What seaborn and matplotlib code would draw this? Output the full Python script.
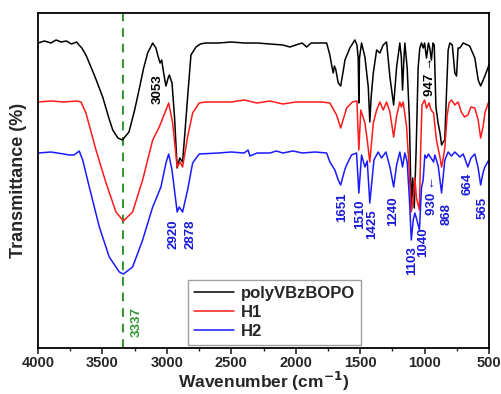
import matplotlib
matplotlib.use("Agg")
import matplotlib.pyplot as plt
from matplotlib.ticker import MultipleLocator
import pandas as pd
import seaborn as sns

# FTIR spectra (wavenumber in cm^-1, offset transmittance in arbitrary units)
poly_wn = [4000, 3950, 3900, 3860, 3820, 3780, 3740, 3700, 3682, 3660, 3628, 3560,
           3498, 3450, 3420, 3380, 3345, 3294, 3250, 3216, 3180, 3149, 3110, 3085,
           3071, 3053, 3040, 3025, 3007, 2990, 2981, 2960, 2940, 2920, 2900, 2878,
           2860, 2839, 2813, 2774, 2740, 2700, 2600, 2500, 2400, 2300, 2200, 2100,
           2045, 2000, 1950, 1916, 1880, 1800, 1760, 1735, 1720, 1709, 1700, 1690,
           1670, 1651, 1630, 1618, 1580, 1541, 1525, 1515, 1510, 1505, 1489, 1463,
           1437, 1425, 1415, 1398, 1372, 1347, 1321, 1295, 1269, 1240, 1217, 1192,
           1180, 1171, 1160, 1153, 1135, 1118, 1103, 1092, 1080, 1065, 1050, 1037,
           1024, 1010, 1000, 985, 970, 960, 947, 935, 925, 912, 895, 880, 868, 856,
           843, 830, 817, 804, 785, 765, 752, 740, 726, 700, 650, 610, 584, 565, 532,
           506, 500]
poly_t = [305, 307, 305, 308, 306, 307, 304, 306, 303, 300, 293, 272,
          251, 230, 218, 210, 208, 216, 238, 258, 280, 295, 305, 300,
          293, 285, 288, 275, 262, 270, 273, 265, 230, 180, 190, 186,
          215, 251, 293, 301, 304, 305, 305, 306, 305, 305, 304, 303,
          301, 303, 305, 301, 305, 305, 305, 293, 282, 275, 282, 279,
          265, 262, 278, 288, 300, 308, 303, 290, 245, 290, 305, 291,
          261, 226, 250, 275, 298, 295, 303, 306, 271, 243, 281, 305,
          290, 258, 290, 305, 280, 230, 138, 170, 140, 200, 280, 300,
          305, 300, 305, 290, 305, 300, 288, 305, 303, 241, 225, 215, 203, 206,
          208, 255, 298, 305, 303, 275, 272, 300, 300, 305, 302, 290, 268, 262, 272,
          281, 283]

h1_wn = [4000, 3900, 3800, 3700, 3666, 3628, 3550, 3472, 3395, 3337, 3266, 3188,
         3110, 3059, 3007, 2986, 2955, 2920, 2898, 2878, 2839, 2800, 2749, 2700,
         2500, 2400, 2300, 2200, 2100, 2000, 1900, 1800, 1735, 1683, 1651, 1605,
         1560, 1525, 1510, 1495, 1463, 1445, 1425, 1398, 1372, 1347, 1321, 1295,
         1269, 1240, 1217, 1192, 1180, 1166, 1140, 1120, 1103, 1088, 1075, 1063,
         1040, 1030, 1020, 1000, 985, 965, 950, 930, 908, 881, 868, 855, 843, 825,
         810, 791, 765, 740, 715, 690, 664, 640, 610, 584, 565, 545, 532, 506, 500]
h1_t = [246, 247, 246, 247, 246, 235, 198, 165, 136, 127, 136, 168,
        208, 221, 238, 245, 225, 181, 186, 181, 211, 235, 245, 246,
        246, 248, 245, 247, 244, 246, 246, 246, 245, 233, 220, 240,
        246, 247, 198, 238, 225, 208, 186, 225, 238, 246, 238, 246,
        236, 211, 232, 246, 241, 246, 222, 180, 136, 148, 170, 150,
        138, 200, 243, 248, 240, 245, 238, 235, 208, 191, 181, 190, 200, 232,
        245, 248, 243, 246, 236, 231, 233, 241, 240, 228, 210, 222, 235, 245, 246]

h2_wn = [4000, 3900, 3800, 3757, 3720, 3680, 3653, 3602, 3524, 3447, 3369, 3337,
         3266, 3188, 3110, 3046, 3007, 2986, 2960, 2920, 2904, 2878, 2839, 2800,
         2749, 2600, 2500, 2400, 2370, 2355, 2300, 2200, 2150, 2100, 2020, 1950,
         1850, 1760, 1735, 1696, 1670, 1651, 1620, 1605, 1567, 1528, 1510, 1489,
         1463, 1445, 1425, 1393, 1360, 1334, 1300, 1269, 1240, 1217, 1192, 1171,
         1153, 1135, 1118, 1103, 1088, 1075, 1060, 1040, 1024, 1011, 998, 985, 970,
         955, 940, 930, 920, 894, 868, 843, 817, 791, 765, 726, 700, 675, 664, 640,
         610, 584, 565, 545, 532, 506, 500]
h2_t = [195, 196, 194, 193, 193, 197, 188, 161, 121, 91, 76, 74,
        81, 108, 141, 161, 185, 194, 178, 136, 141, 136, 158, 185,
        194, 195, 196, 195, 198, 192, 195, 195, 197, 195, 197, 195,
        196, 195, 186, 178, 168, 163, 178, 183, 193, 195, 155, 193,
        181, 187, 145, 188, 196, 190, 196, 181, 161, 183, 196, 181,
        195, 186, 150, 108, 128, 135, 128, 118, 160, 168, 193, 190, 194,
        191, 188, 186, 193, 182, 155, 188, 196, 192, 196, 191, 194, 185, 181, 190,
        194, 180, 163, 176, 181, 187, 188]

series_names = ["polyVBzBOPO", "H1", "H2"]
series_colors = ["#000000", "#ff1a1a", "#1a1aff"]

# Peak assignments: (text, wavenumber, height, colour)
peak_labels = ["3053", "947 \u2192", "2920", "2878", "1651", "1510", "1425", "1240",
               "1103", "1040", "930 \u2190", "868", "664", "565"]
peak_wn = [3073, 959, 2945, 2813, 1642, 1502, 1409, 1246, 1099, 1013, 943, 827, 664, 548]
peak_y = [259, 272, 114, 114, 141, 134, 124, 137, 87, 106, 153, 134, 164, 140]
peak_colors = ["black", "black"] + ["#1a1adb"] * 12

oh_band = 3337

frames = []
for name, wn, t in zip(series_names, [poly_wn, h1_wn, h2_wn], [poly_t, h1_t, h2_t]):
    frames.append(pd.DataFrame({"wavenumber": wn, "T": t, "sample": name}))
df = pd.concat(frames, ignore_index=True)

sns.set_theme(style="ticks")
plt.rcParams["font.family"] = ["Liberation Sans", "DejaVu Sans"]
plt.rcParams["font.weight"] = "bold"
plt.rcParams["mathtext.default"] = "bf"

fig = plt.figure(figsize=(5.02, 3.94), dpi=100)
ax = fig.add_axes([38 / 502, 1 - 348 / 394, 451 / 502, 335 / 394])

sns.lineplot(data=df, x="wavenumber", y="T", hue="sample", hue_order=series_names,
             palette=series_colors, estimator=None, sort=False, linewidth=1.1, ax=ax)

ax.axvline(oh_band, color="#2e962e", linestyle=(0, (4.5, 3.5)), linewidth=1.4, zorder=0)

for txt, w, y, c in zip(peak_labels, peak_wn, peak_y, peak_colors):
    ax.text(w, y, txt, rotation=90, ha="center", va="center", color=c,
            fontsize=9.5, fontweight="bold")
ax.text(3232, 26, str(oh_band), rotation=90, ha="center", va="center",
        color="#2e962e", fontsize=9.5, fontweight="bold")

ax.set_xlim(4000, 500)
ax.set_ylim(0, 335)
ax.set_yticks([])
ax.xaxis.set_major_locator(MultipleLocator(500))
ax.xaxis.set_minor_locator(MultipleLocator(250))
ax.tick_params(axis="x", which="major", direction="out", length=4, width=1.2,
               labelsize=10.5, pad=2)
ax.tick_params(axis="x", which="minor", direction="out", length=2.5, width=1.0)
for lbl in ax.get_xticklabels():
    lbl.set_fontweight("bold")
for sp in ax.spines.values():
    sp.set_visible(True)
    sp.set_linewidth(1.3)
    sp.set_color("black")

ax.set_xlabel("Wavenumber (cm$^{-1}$)", fontsize=12.5, fontweight="bold", labelpad=0)
ax.set_ylabel("Transmittance (%)", fontsize=13, fontweight="bold", labelpad=8)

leg = ax.legend(loc="lower left", bbox_to_anchor=(0.333, 0.009), borderaxespad=0,
                frameon=True, fancybox=False, edgecolor="#888888", fontsize=12,
                handlelength=2.4, handletextpad=0.4, labelspacing=0.25,
                borderpad=0.35, title=None)
for t in leg.get_texts():
    t.set_fontweight("bold")
for h in leg.get_lines():
    h.set_linewidth(1.1)
leg.get_frame().set_linewidth(1.0)

fig.savefig("out.png", dpi=100)
